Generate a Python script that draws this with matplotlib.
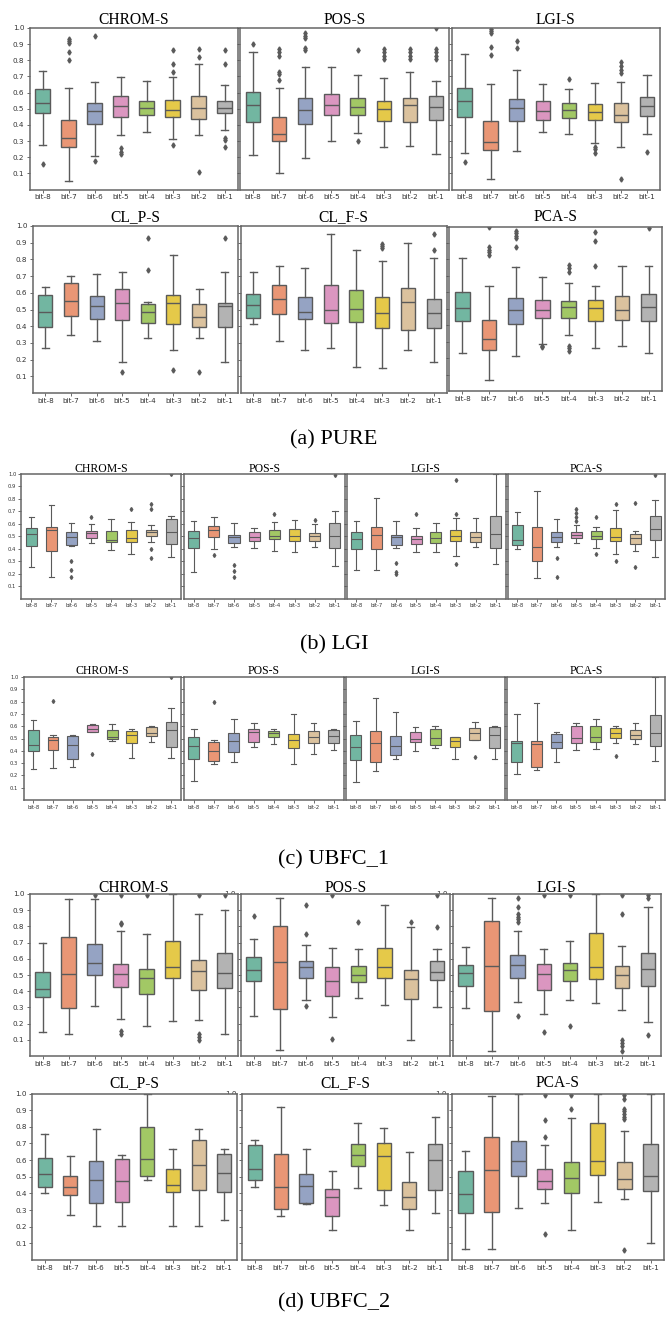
import colorsys
import matplotlib
matplotlib.use("Agg")
import matplotlib.pyplot as plt
from matplotlib.colors import to_rgb

W, H = 668, 1318
BITS = ["bit-8", "bit-7", "bit-6", "bit-5", "bit-4", "bit-3", "bit-2", "bit-1"]
SET2 = ["#66c2a5", "#fc8d62", "#8da0cb", "#e78ac3", "#a6d854", "#ffd92f", "#e5c494", "#b3b3b3"]
YTICKS = [0.1, 0.2, 0.3, 0.4, 0.5, 0.6, 0.7, 0.8, 0.9, 1.0]

# each row: (whisker low, q1, median, q3, whisker high)
# ---------------- (a) PURE ----------------
PURE_CHROM = [(0.275, 0.474, 0.534, 0.625, 0.735), (0.05, 0.261, 0.317, 0.429, 0.631),
              (0.209, 0.404, 0.484, 0.538, 0.665), (0.34, 0.447, 0.516, 0.576, 0.694),
              (0.358, 0.46, 0.503, 0.547, 0.673), (0.315, 0.451, 0.493, 0.555, 0.694),
              (0.335, 0.439, 0.507, 0.58, 0.776), (0.369, 0.472, 0.503, 0.549, 0.644)]
PURE_CHROM_FL = [[0.157], [0.93, 0.92, 0.91, 0.85, 0.80], [0.952, 0.178], [0.255, 0.235, 0.22], [],
                 [0.865, 0.775, 0.725, 0.275], [0.87, 0.82, 0.106], [0.865, 0.776, 0.32, 0.306, 0.265]]
PURE_POS = [(0.215, 0.42, 0.524, 0.602, 0.849), (0.10, 0.30, 0.342, 0.449, 0.631),
            (0.195, 0.404, 0.493, 0.565, 0.758), (0.30, 0.46, 0.524, 0.59, 0.758),
            (0.352, 0.464, 0.509, 0.565, 0.708), (0.265, 0.424, 0.501, 0.545, 0.692),
            (0.269, 0.418, 0.526, 0.565, 0.725), (0.219, 0.429, 0.511, 0.58, 0.669)]
PURE_POS_FL = [[0.90], [0.87, 0.85, 0.825, 0.725, 0.714, 0.677], [0.969, 0.952, 0.936, 0.876, 0.865], [],
               [0.861, 0.30], [0.87, 0.85, 0.825, 0.81], [0.87, 0.85, 0.825, 0.81], [1.0, 0.87, 0.85, 0.825, 0.81]]
PURE_LGI = [(0.228, 0.451, 0.549, 0.631, 0.839), (0.064, 0.244, 0.296, 0.422, 0.654),
            (0.236, 0.422, 0.503, 0.561, 0.737), (0.356, 0.433, 0.484, 0.545, 0.654),
            (0.346, 0.441, 0.495, 0.534, 0.621), (0.286, 0.429, 0.478, 0.528, 0.66),
            (0.265, 0.418, 0.46, 0.534, 0.665), (0.342, 0.455, 0.516, 0.571, 0.708)]
PURE_LGI_FL = [[0.172], [0.996, 0.983, 0.969, 0.882, 0.834], [0.921, 0.876], [], [0.685],
               [0.265, 0.248, 0.228], [0.789, 0.766, 0.741, 0.72, 0.064], [0.23]]
PURE_CLP = [(0.271, 0.395, 0.487, 0.589, 0.637), (0.345, 0.461, 0.551, 0.661, 0.70),
            (0.311, 0.441, 0.521, 0.581, 0.711), (0.184, 0.437, 0.541, 0.625, 0.727),
            (0.327, 0.421, 0.485, 0.531, 0.547), (0.256, 0.415, 0.539, 0.585, 0.828),
            (0.327, 0.397, 0.457, 0.531, 0.621), (0.184, 0.397, 0.519, 0.539, 0.727)]
PURE_CLP_FL = [[], [], [], [0.128], [0.93, 0.737], [0.136], [0.128], [0.93]]
PURE_CLF = [(0.411, 0.451, 0.525, 0.593, 0.727), (0.311, 0.475, 0.561, 0.645, 0.76),
            (0.256, 0.441, 0.483, 0.575, 0.75), (0.267, 0.417, 0.499, 0.649, 0.95),
            (0.156, 0.425, 0.503, 0.619, 0.858), (0.148, 0.391, 0.481, 0.575, 0.79),
            (0.256, 0.375, 0.545, 0.631, 0.90), (0.186, 0.391, 0.477, 0.561, 0.806)]
PURE_CLF_FL = [[], [], [], [], [], [0.894, 0.88, 0.866], [], [0.95, 0.858]]
PURE_PCA = [(0.23, 0.427, 0.505, 0.599, 0.81), (0.064, 0.251, 0.319, 0.431, 0.637),
            (0.212, 0.405, 0.491, 0.565, 0.756), (0.287, 0.445, 0.495, 0.551, 0.694),
            (0.341, 0.445, 0.511, 0.547, 0.659), (0.26, 0.423, 0.505, 0.551, 0.637),
            (0.275, 0.431, 0.495, 0.577, 0.76), (0.232, 0.427, 0.513, 0.587, 0.76)]
PURE_PCA_FL = [[], [0.996, 0.874, 0.86, 0.846, 0.824], [0.974, 0.958, 0.94, 0.93, 0.878], [0.275, 0.265],
               [0.766, 0.745, 0.725, 0.275, 0.26, 0.246], [0.966, 0.91, 0.76], [], [0.99]]

# ---------------- (b) LGI ----------------
LGI_CHROM = [(0.255, 0.419, 0.515, 0.566, 0.657), (0.175, 0.384, 0.547, 0.571, 0.748),
             (0.425, 0.43, 0.496, 0.537, 0.604), (0.448, 0.488, 0.523, 0.545, 0.598),
             (0.387, 0.451, 0.47, 0.545, 0.636), (0.36, 0.451, 0.483, 0.55, 0.617),
             (0.451, 0.504, 0.531, 0.55, 0.587), (0.336, 0.44, 0.534, 0.641, 0.662)]
LGI_CHROM_FL = [[], [], [0.304, 0.229, 0.17], [0.652], [], [0.719], [0.759, 0.719, 0.40, 0.325], [1.0]]
LGI_POS = [(0.212, 0.408, 0.483, 0.542, 0.625), (0.395, 0.496, 0.547, 0.585, 0.657),
           (0.411, 0.443, 0.494, 0.51, 0.609), (0.403, 0.462, 0.491, 0.534, 0.569),
           (0.384, 0.475, 0.502, 0.55, 0.612), (0.373, 0.459, 0.504, 0.555, 0.63),
           (0.416, 0.459, 0.502, 0.523, 0.598), (0.258, 0.405, 0.502, 0.609, 0.705)]
LGI_POS_FL = [[], [0.352], [0.269, 0.218, 0.17], [], [0.676], [], [0.63], [0.99]]
LGI_LGI = [(0.226, 0.40, 0.475, 0.534, 0.625), (0.226, 0.40, 0.51, 0.577, 0.804),
           (0.408, 0.432, 0.491, 0.512, 0.625), (0.373, 0.437, 0.475, 0.504, 0.569),
           (0.376, 0.443, 0.483, 0.531, 0.604), (0.341, 0.464, 0.502, 0.547, 0.649),
           (0.411, 0.451, 0.491, 0.534, 0.644), (0.277, 0.405, 0.515, 0.662, 1.0)]
LGI_LGI_FL = [[], [], [0.287, 0.212, 0.194], [0.679], [], [0.952, 0.679, 0.277], [], []]
LGI_PCA = [(0.395, 0.427, 0.47, 0.587, 0.697), (0.167, 0.30, 0.416, 0.577, 0.866),
           (0.413, 0.451, 0.491, 0.537, 0.636), (0.448, 0.483, 0.51, 0.531, 0.587),
           (0.403, 0.475, 0.502, 0.542, 0.577), (0.354, 0.462, 0.494, 0.569, 0.71),
           (0.384, 0.437, 0.483, 0.52, 0.545), (0.33, 0.47, 0.555, 0.665, 0.791)]
LGI_PCA_FL = [[], [], [0.322, 0.175], [0.721, 0.689, 0.657, 0.622], [0.657, 0.36], [0.761, 0.30],
              [0.764, 0.255], [0.99]]

# ---------------- (c) UBFC_1 ----------------
U1_CHROM = [(0.253, 0.396, 0.447, 0.568, 0.652), (0.261, 0.41, 0.49, 0.509, 0.528),
            (0.27, 0.331, 0.445, 0.523, 0.528), (0.55, 0.55, 0.577, 0.609, 0.62),
            (0.482, 0.496, 0.509, 0.568, 0.62), (0.345, 0.463, 0.525, 0.56, 0.579),
            (0.474, 0.517, 0.544, 0.593, 0.598), (0.34, 0.431, 0.566, 0.633, 0.75)]
U1_CHROM_FL = [[], [0.805], [], [0.377], [], [], [], [1.0]]
U1_POS = [(0.156, 0.331, 0.439, 0.509, 0.577), (0.296, 0.315, 0.399, 0.472, 0.485),
          (0.305, 0.388, 0.482, 0.544, 0.657), (0.431, 0.472, 0.552, 0.577, 0.625),
          (0.455, 0.509, 0.544, 0.558, 0.577), (0.296, 0.423, 0.485, 0.536, 0.70),
          (0.377, 0.463, 0.512, 0.56, 0.625), (0.41, 0.463, 0.517, 0.571, 0.577)]
U1_POS_FL = [[], [0.80], [], [], [], [], [], []]
U1_LGI = [(0.146, 0.323, 0.431, 0.528, 0.641), (0.237, 0.307, 0.466, 0.56, 0.827),
          (0.337, 0.364, 0.439, 0.52, 0.719), (0.402, 0.472, 0.496, 0.552, 0.593),
          (0.42, 0.445, 0.507, 0.579, 0.603), (0.337, 0.434, 0.48, 0.509, 0.512),
          (0.49, 0.49, 0.542, 0.585, 0.638), (0.337, 0.423, 0.528, 0.593, 0.598)]
U1_LGI_FL = [[], [], [], [], [], [], [0.35], []]
U1_PCA = [(0.213, 0.31, 0.463, 0.482, 0.70), (0.243, 0.27, 0.453, 0.482, 0.787),
          (0.305, 0.42, 0.474, 0.539, 0.552), (0.407, 0.461, 0.507, 0.598, 0.625),
          (0.415, 0.472, 0.512, 0.601, 0.657), (0.466, 0.501, 0.544, 0.582, 0.603),
          (0.455, 0.496, 0.531, 0.568, 0.625), (0.321, 0.439, 0.544, 0.687, 1.0)]
U1_PCA_FL = [[], [], [], [], [], [0.356], [], []]

# ---------------- (d) UBFC_2 ----------------
U2_CHROM = [(0.151, 0.363, 0.412, 0.519, 0.696), (0.137, 0.295, 0.505, 0.737, 0.969),
            (0.306, 0.501, 0.575, 0.694, 0.969), (0.23, 0.423, 0.505, 0.569, 0.774),
            (0.188, 0.382, 0.484, 0.54, 0.753), (0.215, 0.48, 0.552, 0.71, 1.0),
            (0.221, 0.408, 0.523, 0.595, 0.875), (0.137, 0.419, 0.515, 0.634, 0.903)]
U2_CHROM_FL = [[], [], [0.996], [0.996, 0.823, 0.815, 0.153, 0.137], [0.996], [],
               [0.996, 0.137, 0.115, 0.1], [0.996]]
U2_POS = [(0.248, 0.464, 0.529, 0.61, 0.721), (0.04, 0.291, 0.579, 0.805, 0.973),
          (0.345, 0.482, 0.548, 0.585, 0.686), (0.24, 0.371, 0.46, 0.55, 0.669),
          (0.357, 0.455, 0.499, 0.556, 0.663), (0.316, 0.484, 0.548, 0.669, 0.932),
          (0.096, 0.353, 0.474, 0.529, 0.795), (0.303, 0.47, 0.519, 0.585, 0.663)]
U2_POS_FL = [[0.866], [], [0.934, 0.753, 0.306], [0.996, 0.106], [0.825], [], [0.825], [0.996, 0.795]]
U2_LGI = [(0.295, 0.435, 0.515, 0.56, 0.671), (0.028, 0.277, 0.556, 0.832, 0.975),
          (0.336, 0.482, 0.56, 0.626, 0.774), (0.262, 0.41, 0.505, 0.566, 0.659),
          (0.347, 0.464, 0.529, 0.573, 0.712), (0.33, 0.478, 0.552, 0.762, 1.0),
          (0.281, 0.419, 0.501, 0.558, 0.679), (0.211, 0.435, 0.534, 0.634, 0.918)]
U2_LGI_FL = [[], [], [0.975, 0.922, 0.877, 0.86, 0.844, 0.829, 0.248], [0.996, 0.147], [0.996, 0.186], [],
             [0.996, 0.877, 0.096, 0.08, 0.063, 0.028], [0.996, 0.975, 0.127]]
U2_CLP = [(0.403, 0.441, 0.519, 0.615, 0.758), (0.269, 0.393, 0.437, 0.507, 0.625),
          (0.206, 0.343, 0.481, 0.597, 0.784), (0.206, 0.351, 0.473, 0.605, 0.629),
          (0.479, 0.503, 0.607, 0.796, 1.0), (0.206, 0.407, 0.449, 0.549, 0.665),
          (0.206, 0.421, 0.573, 0.721, 0.784), (0.242, 0.407, 0.523, 0.637, 0.665)]
U2_CLP_FL = [[], [], [], [], [], [], [], []]
U2_CLF = [(0.441, 0.481, 0.545, 0.693, 0.721), (0.265, 0.307, 0.439, 0.637, 0.92),
          (0.335, 0.345, 0.443, 0.515, 0.665), (0.178, 0.265, 0.377, 0.425, 0.533),
          (0.431, 0.567, 0.633, 0.695, 0.824), (0.333, 0.419, 0.627, 0.701, 0.794),
          (0.178, 0.305, 0.377, 0.467, 0.649), (0.283, 0.419, 0.601, 0.697, 0.86)]
U2_CLF_FL = [[], [], [], [], [], [], [], []]
U2_PCA = [(0.064, 0.285, 0.395, 0.533, 0.655), (0.064, 0.291, 0.543, 0.741, 0.984),
          (0.311, 0.505, 0.593, 0.717, 1.0), (0.345, 0.429, 0.475, 0.549, 0.693),
          (0.182, 0.401, 0.491, 0.589, 0.854), (0.351, 0.509, 0.593, 0.82, 1.0),
          (0.369, 0.425, 0.487, 0.591, 0.776), (0.10, 0.415, 0.503, 0.695, 1.0)]
U2_PCA_FL = [[], [], [], [0.992, 0.842, 0.741, 0.156], [0.992, 0.906], [],
             [0.992, 0.966, 0.908, 0.892, 0.874, 0.86, 0.844, 0.058], []]


def desat(c, p=0.75):
    h, l, s = colorsys.rgb_to_hls(*to_rgb(c))
    return colorsys.hls_to_rgb(h, l, s * p)


COLORS = [desat(c) for c in SET2]
LINE = "#5a5a5a"
SERIF = ["Liberation Serif", "DejaVu Serif"]

fig = plt.figure(figsize=(W / 100, H / 100), dpi=100)
fig.patch.set_facecolor("white")


def panel(x0, x1, y0, y1, rows, fl, title, ty, first, small, peek=False, z=1):
    ax = fig.add_axes([x0 / W, 1 - y1 / H, (x1 - x0) / W, (y1 - y0) / H])
    ax.set_zorder(z)
    stats = [dict(whislo=r[0], q1=r[1], med=r[2], q3=r[3], whishi=r[4], fliers=f)
             for r, f in zip(rows, fl)]
    lw = 0.8 if small else 1.0
    ms = 2.0 if small else 2.6
    bp = ax.bxp(stats, positions=range(len(BITS)), widths=0.55, patch_artist=True,
                boxprops=dict(edgecolor=LINE, linewidth=lw),
                whiskerprops=dict(color=LINE, linewidth=lw),
                capprops=dict(color=LINE, linewidth=lw),
                medianprops=dict(color=LINE, linewidth=lw),
                flierprops=dict(marker="d", markerfacecolor=LINE, markeredgecolor=LINE,
                                markersize=ms, linestyle="none"))
    for patch, c in zip(bp["boxes"], COLORS):
        patch.set_facecolor(c)
    ax.set_xlim(-0.5, 7.5)
    ax.set_ylim(0, 1.0)
    ax.set_xticks(range(len(BITS)))
    ax.set_xticklabels(BITS)
    ax.set_yticks(YTICKS)
    if first:
        ax.set_yticklabels([f"{v:.1f}" for v in YTICKS])
    elif peek:
        # only the top label peeks out above the neighbouring panel
        ax.set_yticklabels([""] * (len(YTICKS) - 1) + ["1.0"])
    else:
        ax.set_yticklabels([])
    fs = 3.8 if small else 5.2
    ax.tick_params(axis="both", direction="out", length=2.2, width=0.6, color="#555555",
                   labelsize=fs, labelcolor="#333333", pad=1.5)
    ax.tick_params(axis="x", length=2.0)
    for sp in ax.spines.values():
        sp.set_color("#666666")
        sp.set_linewidth(1.1)
    fig.text((x0 + x1) / 2 / W, 1 - ty / H, title, ha="center", va="baseline",
             family=SERIF, fontsize=8.5 if small else 11.2, color="black")
    return ax


# (a) PURE
panel(29.5, 237.5, 28, 189.5, PURE_CHROM, PURE_CHROM_FL, "CHROM-S", 23.5, True, False)
panel(240, 449, 28, 189.5, PURE_POS, PURE_POS_FL, "POS-S", 23.5, False, False)
panel(451.5, 660, 28, 189.5, PURE_LGI, PURE_LGI_FL, "LGI-S", 23.5, False, False)
panel(32.5, 237.5, 226, 393, PURE_CLP, PURE_CLP_FL, "CL_P-S", 221, True, False)
panel(240.5, 446.5, 226, 393, PURE_CLF, PURE_CLF_FL, "CL_F-S", 221, False, False)
panel(449, 662, 226.5, 391, PURE_PCA, PURE_PCA_FL, "PCA-S", 221, False, False)
fig.text(0.5, 1 - 440 / H, "(a) PURE", ha="center", va="center", family=SERIF, fontsize=16)

# (b) LGI
panel(21.5, 181, 474, 598.5, LGI_CHROM, LGI_CHROM_FL, "CHROM-S", 471.5, True, True)
panel(183.5, 345, 474, 598.5, LGI_POS, LGI_POS_FL, "POS-S", 471.5, False, True)
panel(346.5, 505.5, 474, 598.5, LGI_LGI, LGI_LGI_FL, "LGI-S", 471.5, False, True)
panel(507.5, 665, 474, 598.5, LGI_PCA, LGI_PCA_FL, "PCA-S", 471.5, False, True)
fig.text(0.5, 1 - 645 / H, "(b) LGI", ha="center", va="center", family=SERIF, fontsize=16)

# (c) UBFC_1
panel(23.5, 181, 677, 800, U1_CHROM, U1_CHROM_FL, "CHROM-S", 674.5, True, True)
panel(184, 343.5, 677, 800, U1_POS, U1_POS_FL, "POS-S", 674.5, False, True)
panel(346, 504.5, 677, 800, U1_LGI, U1_LGI_FL, "LGI-S", 674.5, False, True)
panel(507, 665, 677, 800, U1_PCA, U1_PCA_FL, "PCA-S", 674.5, False, True)
fig.text(0.5, 1 - 860 / H, "(c) UBFC_1", ha="center", va="center", family=SERIF, fontsize=16)

# (d) UBFC_2
panel(29.5, 237.5, 894, 1056, U2_CHROM, U2_CHROM_FL, "CHROM-S", 891.5, True, False, z=3)
panel(240.5, 450, 894, 1056, U2_POS, U2_POS_FL, "POS-S", 891.5, False, False, peek=True, z=2)
panel(452.5, 661, 894, 1056, U2_LGI, U2_LGI_FL, "LGI-S", 891.5, False, False, peek=True, z=1)
panel(32, 237, 1093.5, 1260, U2_CLP, U2_CLP_FL, "CL_P-S", 1087, True, False, z=3)
panel(242, 448, 1093.5, 1260, U2_CLF, U2_CLF_FL, "CL_F-S", 1087, False, False, peek=True, z=2)
panel(452, 664, 1093.5, 1260, U2_PCA, U2_PCA_FL, "PCA-S", 1087, False, False, peek=True, z=1)
fig.text(0.5, 1 - 1303 / H, "(d) UBFC_2", ha="center", va="center", family=SERIF, fontsize=16)

fig.savefig("out.png", dpi=100, facecolor="white")
